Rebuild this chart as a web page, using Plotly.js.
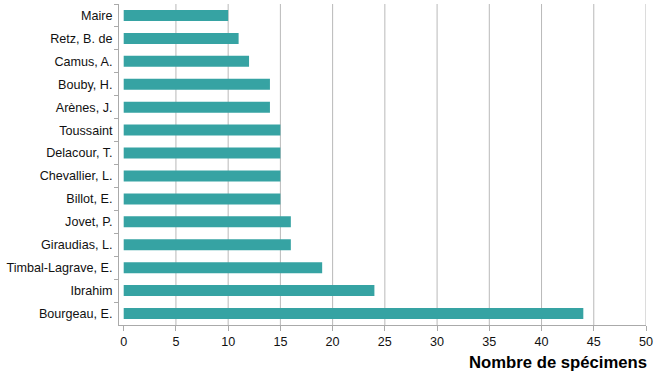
<!DOCTYPE html>
<html>
<head>
<meta charset="utf-8">
<script src="https://cdn.plot.ly/plotly-3.0.1.min.js"></script>
<style>html,body{margin:0;padding:0;background:#fff;}#chart{width:664px;height:385px;}</style>
</head>
<body>
<div id="chart"></div>
<script>
const categories = ["Maire", "Retz, B. de", "Camus, A.", "Bouby, H.", "Arènes, J.", "Toussaint", "Delacour, T.", "Chevallier, L.", "Billot, E.", "Jovet, P.", "Giraudias, L.", "Timbal-Lagrave, E.", "Ibrahim", "Bourgeau, E."];
const values = [10, 11, 12, 14, 14, 15, 15, 15, 15, 16, 16, 19, 24, 44];
const xTicks = [0, 5, 10, 15, 20, 25, 30, 35, 40, 45, 50];
const xTitle = "Nombre de spécimens";

const trace = {
  type: 'bar',
  orientation: 'h',
  x: values,
  y: categories,
  width: 0.48,
  marker: {color: '#36a3a3'},
  hoverinfo: 'x+y'
};

const gridShapes = xTicks.filter(v => v > 0).map(v => ({
  type: 'line', xref: 'x', yref: 'paper',
  x0: v, x1: v, y0: 0, y1: 1,
  layer: 'below',
  line: {color: '#b9b9b9', width: 1}
}));

const layout = {
  width: 664, height: 385,
  margin: {l: 119, r: 18, t: 4, b: 60},
  paper_bgcolor: '#fff', plot_bgcolor: '#fff',
  font: {family: 'Liberation Sans, Arial, sans-serif', size: 12.6, color: '#111'},
  showlegend: false,
  bargap: 0.5,
  shapes: gridShapes,
  xaxis: {
    range: [-0.45, 50],
    tickvals: xTicks,
    ticktext: xTicks.map(String),
    showgrid: false,
    zeroline: false,
    showline: true, linecolor: '#aaaaaa', linewidth: 1,
    ticks: 'outside', ticklen: 5, tickcolor: '#aaaaaa',
    tickfont: {size: 12.6, color: '#111'},
    fixedrange: true
  },
  yaxis: {
    type: 'category',
    autorange: 'reversed',
    showgrid: false, zeroline: false,
    showline: true, linecolor: '#aaaaaa', linewidth: 1,
    ticks: 'outside', tickson: 'boundaries', ticklen: 4, tickcolor: '#aaaaaa',
    ticklabelstandoff: 3,
    tickfont: {size: 12.6, color: '#111'},
    fixedrange: true
  },
  annotations: [{
    text: xTitle,
    xref: 'paper', yref: 'paper',
    x: 1, y: 0, xanchor: 'right', yanchor: 'top',
    xshift: 2, yshift: -27,
    borderpad: 0,
    showarrow: false,
    font: {size: 16.7, color: '#000', family: 'Liberation Sans, Arial, sans-serif', weight: 'bold'}
  }]
};

Plotly.newPlot('chart', [trace], layout, {displayModeBar: false, staticPlot: true});
</script>
</body>
</html>
